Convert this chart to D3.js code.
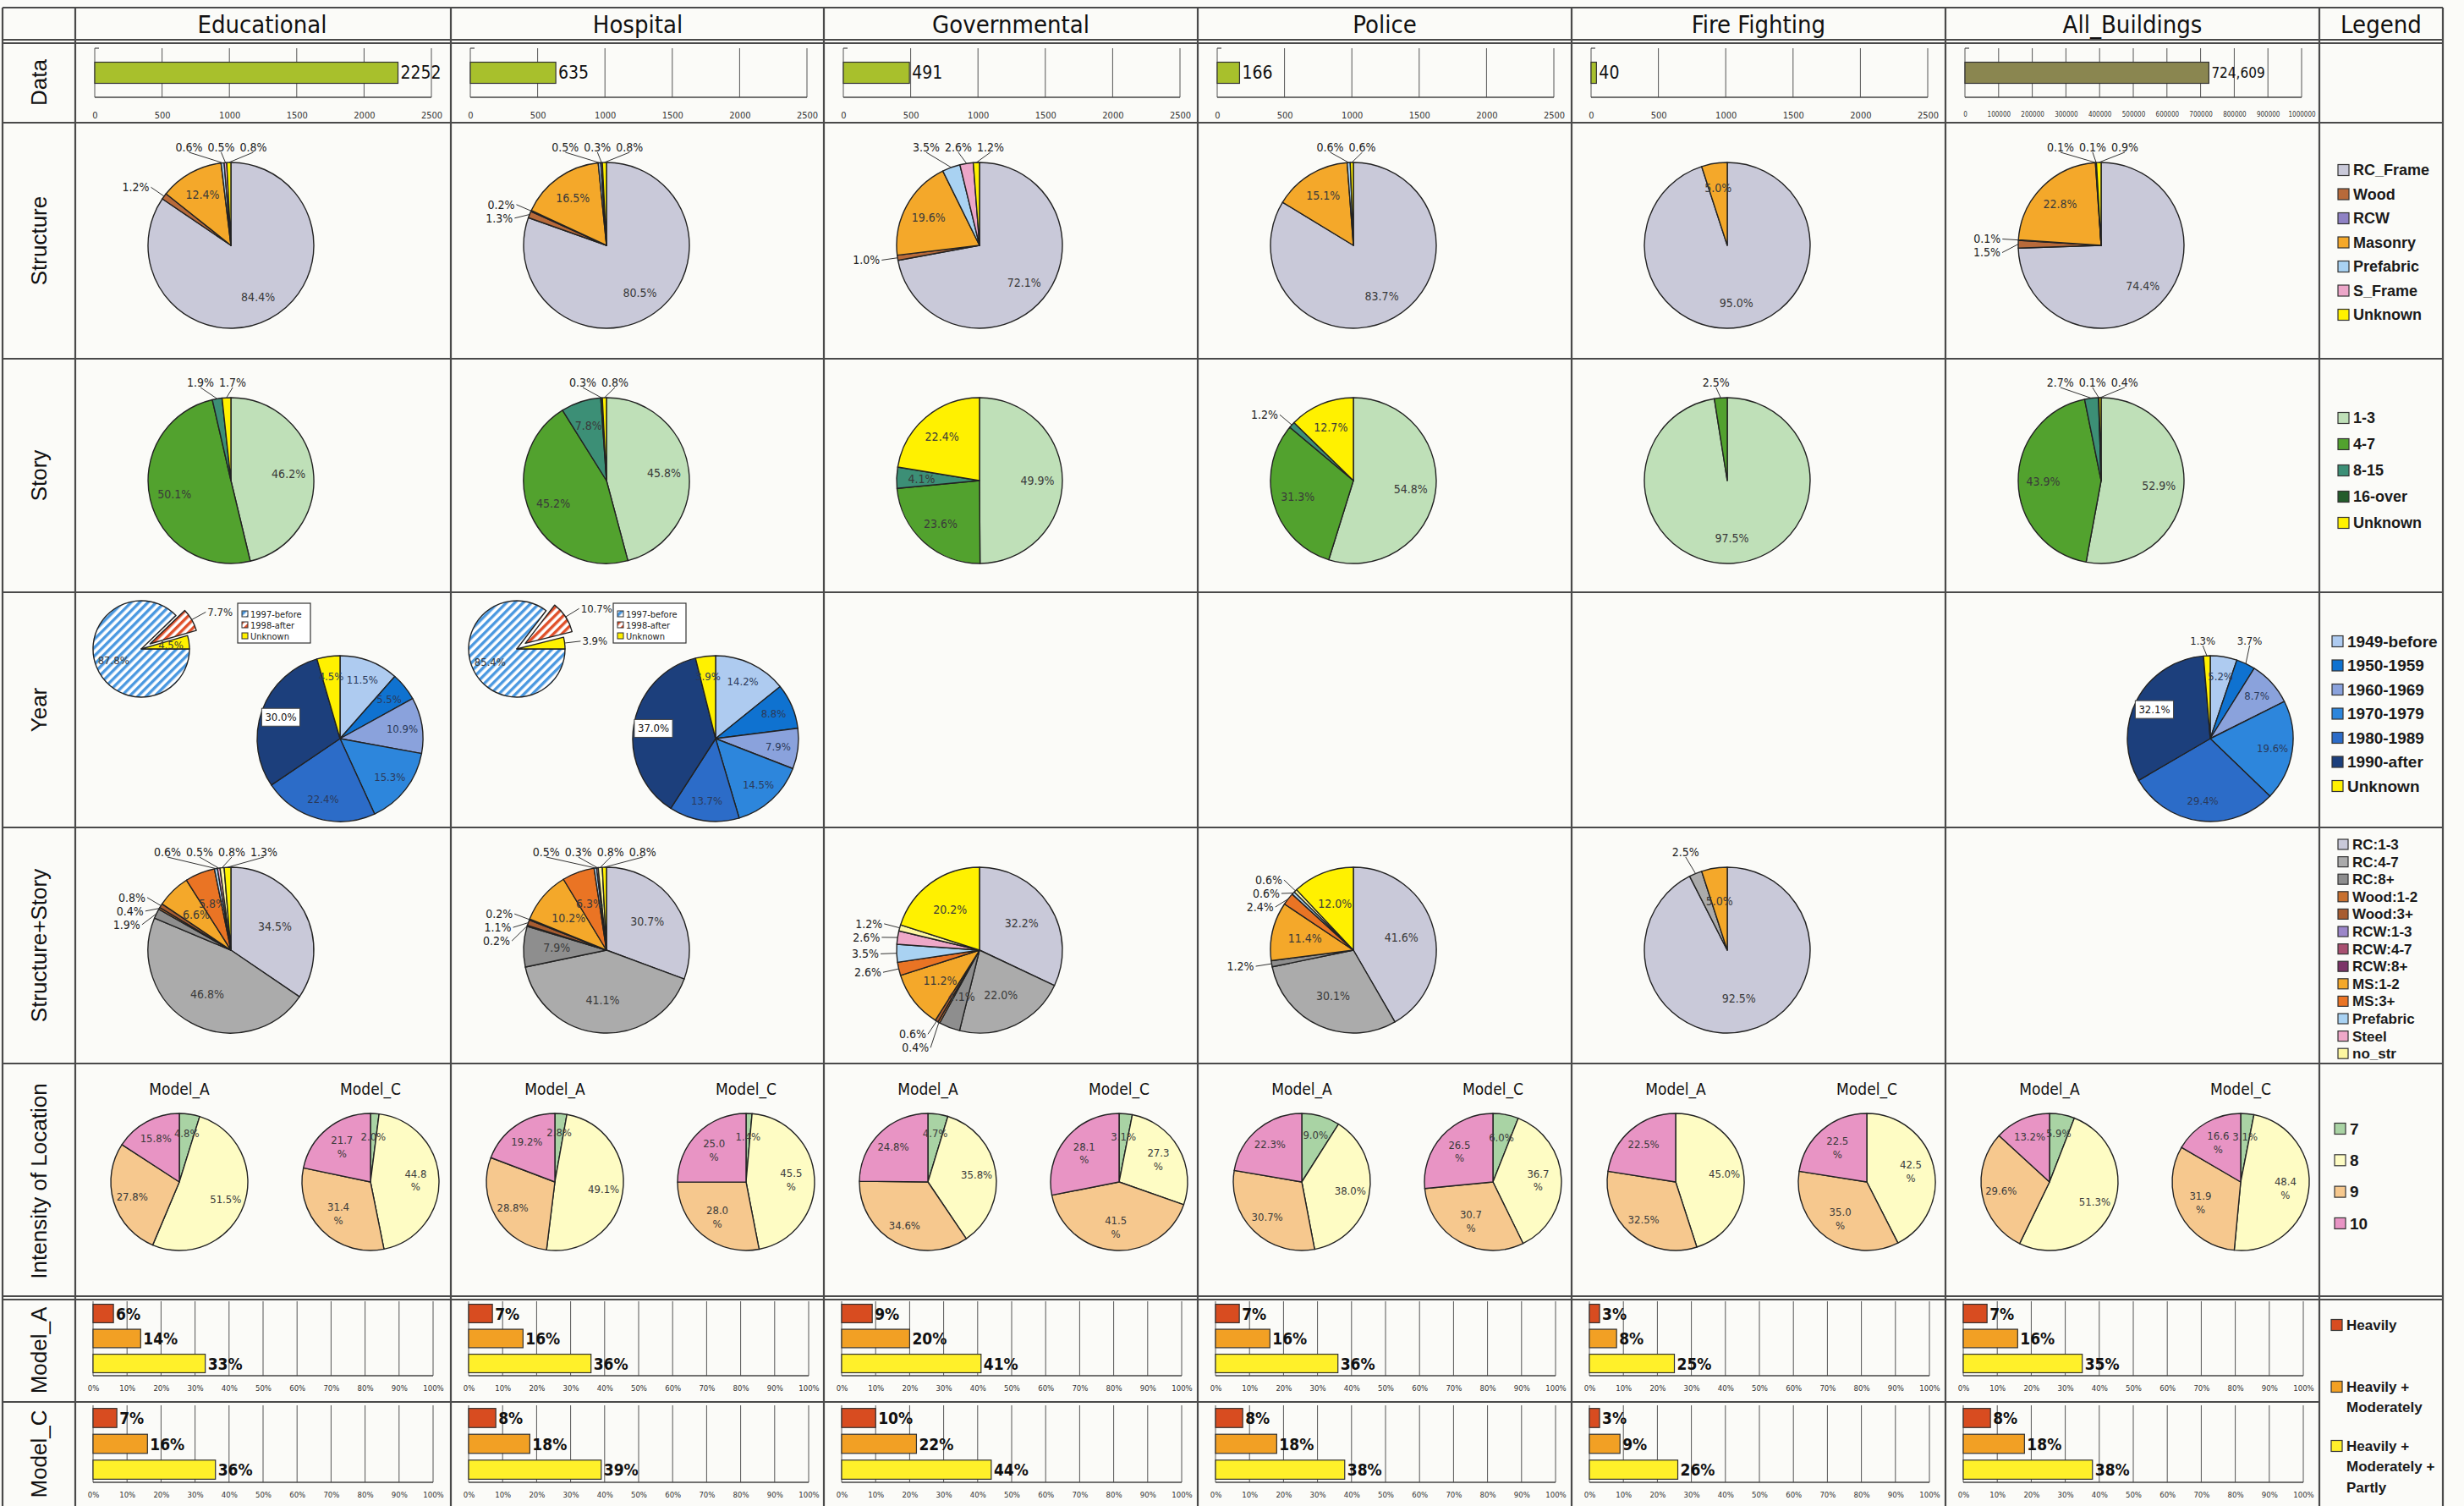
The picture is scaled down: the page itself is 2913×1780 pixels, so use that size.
<!DOCTYPE html>
<html>
<head>
<meta charset="utf-8">
<script src="https://cdn.jsdelivr.net/npm/d3@7"></script>
<style>
body { margin: 0; background: #fbfbf8; }
svg { display: block; }
</style>
</head>
<body>
<script>
// ---- data ----
const columns = ["Educational", "Hospital", "Governmental", "Police", "Fire Fighting", "All_Buildings"];
const rowNames = ["Data", "Structure", "Story", "Year", "Structure+Story", "Intensity of Location", "Model_A", "Model_C"];

const dataCounts = [2252, 635, 491, 166, 40, 724609];

const structureCats = ["RC_Frame", "Wood", "RCW", "Masonry", "Prefabric", "S_Frame", "Unknown"];
const structureValues = [
    [84.4, 1.2, 0.0, 12.4, 0.6, 0.5, 0.8],
    [80.5, 1.3, 0.2, 16.5, 0.5, 0.3, 0.8],
    [72.1, 1.0, 0.0, 19.6, 3.5, 2.6, 1.2],
    [83.7, 0.0, 0.0, 15.1, 0.6, 0.0, 0.6],
    [95.0, 0.0, 0.0, 5.0, 0.0, 0.0, 0.0],
    [74.4, 1.5, 0.1, 22.8, 0.1, 0.1, 0.9]
];

const storyCats = ["1-3", "4-7", "8-15", "16-over", "Unknown"];
const storyValues = [
    [46.2, 50.1, 1.9, 0.0, 1.7],
    [45.8, 45.2, 7.8, 0.3, 0.8],
    [49.9, 23.6, 4.1, 0.0, 22.4],
    [54.8, 31.3, 1.2, 0.0, 12.7],
    [97.5, 2.5, 0.0, 0.0, 0.0],
    [52.9, 43.9, 2.7, 0.1, 0.4]
];

const yearCats = ["1949-before", "1950-1959", "1960-1969", "1970-1979", "1980-1989", "1990-after", "Unknown"];
const yearValues = [
    [11.5, 5.5, 10.9, 15.3, 22.4, 30.0, 4.5],
    [14.2, 8.8, 7.9, 14.5, 13.7, 37.0, 3.9],
    null, null, null,
    [5.2, 3.7, 8.7, 19.6, 29.4, 32.1, 1.3]
];
const splitCats = ["1997-before", "1998-after", "Unknown"];
const splitValues = [
    [87.8, 7.7, 4.5],
    [85.4, 10.7, 3.9],
    null, null, null, null
];

const ssCats = ["RC:1-3", "RC:4-7", "RC:8+", "Wood:1-2", "Wood:3+", "RCW:1-3", "RCW:4-7", "RCW:8+",
    "MS:1-2", "MS:3+", "Prefabric", "Steel", "no_str", "Unknown"];
const ssValues = [
    [34.5, 46.8, 1.9, 0.4, 0.8, 0, 0, 0, 6.6, 5.8, 0.6, 0.5, 0.8, 1.3],
    [30.7, 41.1, 7.9, 0.2, 1.1, 0.2, 0, 0, 10.2, 6.3, 0.5, 0.3, 0.8, 0.8],
    [32.2, 22.0, 4.1, 0.4, 0.6, 0, 0, 0, 11.2, 2.6, 3.5, 2.6, 1.2, 20.2],
    [41.6, 30.1, 1.2, 0, 0, 0, 0, 0, 11.4, 2.4, 0.6, 0, 0.6, 12.0],
    [92.5, 2.5, 0, 0, 0, 0, 0, 0, 5.0, 0, 0, 0, 0, 0],
    null
];

const intensityCats = ["7", "8", "9", "10"];
const intensityA = [
    [4.8, 51.5, 27.8, 15.8],
    [2.8, 49.1, 28.8, 19.2],
    [4.7, 35.8, 34.6, 24.8],
    [9.0, 38.0, 30.7, 22.3],
    [0.0, 45.0, 32.5, 22.5],
    [5.9, 51.3, 29.6, 13.2]
];
const intensityC = [
    [2.0, 44.8, 31.4, 21.7],
    [1.4, 45.5, 28.0, 25.0],
    [3.1, 27.3, 41.5, 28.1],
    [6.0, 36.7, 30.7, 26.5],
    [0.0, 42.5, 35.0, 22.5],
    [3.1, 48.4, 31.9, 16.6]
];

const damageCats = ["Heavily", "Heavily + Moderately", "Heavily + Moderately + Partly"];
const damageA = [[6, 14, 33], [7, 16, 36], [9, 20, 41], [7, 16, 36], [3, 8, 25], [7, 16, 35]];
const damageC = [[7, 16, 36], [8, 18, 39], [10, 22, 44], [8, 18, 38], [3, 9, 26], [8, 18, 38]];

// ---- colours ----
const structureColors = { RC_Frame: "#c9c9d9", Wood: "#b86a3a", RCW: "#8f82c4", Masonry: "#f4a82a",
    Prefabric: "#a9d2f2", S_Frame: "#eca6c8", Unknown: "#fff100" };
const storyColors = { "1-3": "#bfe0b8", "4-7": "#52a22e", "8-15": "#3c8f76", "16-over": "#245c2c", Unknown: "#fff100" };
const yearColors = { "1949-before": "#aecbf0", "1950-1959": "#0f72d0", "1960-1969": "#8aa2dc",
    "1970-1979": "#2d86dc", "1980-1989": "#2c6cc8", "1990-after": "#1c3f7c", Unknown: "#fff100" };
const splitColors = { "1997-before": "url(#hBlue)", "1998-after": "url(#hRed)", Unknown: "#fff100" };
const ssColors = { "RC:1-3": "#c9c9d9", "RC:4-7": "#ababab", "RC:8+": "#8e8e8e", "Wood:1-2": "#c8702e",
    "Wood:3+": "#a85c30", "RCW:1-3": "#9b86c8", "RCW:4-7": "#a85070", "RCW:8+": "#7c3468",
    "MS:1-2": "#f4a82a", "MS:3+": "#ea7424", Prefabric: "#a9d2f2", Steel: "#eea8c8", no_str: "#fdf7a0", Unknown: "#fff100" };
const intensityColors = { "7": "#a9d3a4", "8": "#fefcc4", "9": "#f6c88e", "10": "#e894c4" };
const damageColors = { "Heavily": "#d84c20", "Heavily + Moderately": "#f2a024", "Heavily + Moderately + Partly": "#fff02a" };

const NARROW = "'Liberation Sans Narrow','DejaVu Sans Condensed',sans-serif";
const SANS = "'Liberation Sans',Arial,sans-serif";

// ---- layout ----
const W = 2913, H = 1780;
const colX = [89, 533, 974, 1416, 1858, 2300];
const legX = 2742, rightX = 2888;
const rowY = [[50, 145], [145, 424], [424, 700], [700, 978], [978, 1257], [1257, 1535], [1535, 1657], [1657, 1780]];

const svg = d3.select("body").append("svg").attr("width", W).attr("height", H);
const defs = svg.append("defs");

function hatch(id, color) {
    const p = defs.append("pattern").attr("id", id).attr("patternUnits", "userSpaceOnUse")
        .attr("width", 7).attr("height", 7).attr("patternTransform", "rotate(45)");
    p.append("rect").attr("width", 7).attr("height", 7).attr("fill", "#fff");
    p.append("rect").attr("width", 3.4).attr("height", 7).attr("fill", color);
}
hatch("hBlue", "#4a98e0");
hatch("hRed", "#e0502a");

const pct = v => d3.format(".1f")(v) + "%";

function drawPie(cx, cy, r, values, cats, colors, opt = {}) {
    const o = Object.assign({ thr: 0.04, lr: 0.7, start: 0, split: false, boxCat: null, explode: null,
        outside: [], fs: 14, color: "#3a3a3a", avoid: false }, opt);
    const total = d3.sum(values);
    const arcs = d3.pie().sort(null).startAngle(o.start).endAngle(o.start + 2 * Math.PI)(values)
        .filter(a => a.value > 0);
    const arc = d3.arc().innerRadius(0).outerRadius(r);
    const g = svg.append("g").attr("transform", `translate(${cx},${cy})`);
    const shift = a => {
        if (cats[a.index] !== o.explode) return [0, 0];
        const m = (a.startAngle + a.endAngle) / 2;
        return [12 * Math.sin(m), -12 * Math.cos(m)];
    };

    g.selectAll("path.slice").data(arcs).join("path")
        .attr("class", "slice")
        .attr("d", arc)
        .attr("transform", a => `translate(${shift(a)})`)
        .attr("fill", a => colors[cats[a.index]])
        .attr("stroke", "#222")
        .attr("stroke-width", 1.4)
        .attr("stroke-linejoin", "round");

    // which labels go inside: big enough, and (optionally) not colliding with an earlier one
    const lab = d3.arc().innerRadius(r * o.lr).outerRadius(r * o.lr);
    const boxes = [];
    arcs.forEach(a => {
        a.out = a.value / total < o.thr || o.outside.includes(cats[a.index]);
        if (a.out || !o.avoid) return;
        const [x, y] = lab.centroid(a);
        const w = pct(a.value).length * o.fs * 0.5, h = o.fs;
        const hit = boxes.some(b => Math.abs(b[0] - x) < (b[2] + w) / 2 && Math.abs(b[1] - y) < (b[3] + h) / 2);
        if (hit) a.out = true; else boxes.push([x, y, w, h]);
    });

    arcs.filter(a => !a.out).forEach(a => {
        const [x, y] = lab.centroid(a);
        const [dx, dy] = shift(a);
        const t = g.append("text")
            .attr("x", x + dx).attr("y", y + dy)
            .attr("text-anchor", "middle")
            .attr("font-family", NARROW).attr("font-size", o.fs)
            .attr("fill", o.color);
        if (o.split && a.value >= 10) {
            t.append("tspan").attr("x", x + dx).attr("dy", "-0.25em").text(d3.format(".1f")(a.value));
            t.append("tspan").attr("x", x + dx).attr("dy", "1.2em").text("%");
        } else {
            t.attr("dy", "0.35em").text(pct(a.value));
        }
        if (cats[a.index] === o.boxCat) {
            const b = t.node().getBBox();
            g.insert("rect", () => t.node())
                .attr("x", b.x - 4).attr("y", b.y - 3).attr("width", b.width + 8).attr("height", b.height + 6)
                .attr("fill", "#fff").attr("stroke", "#444").attr("stroke-width", 1);
            t.attr("fill", "#111");
        }
    });

    // small slices: labels outside with leader lines
    const outs = arcs.filter(a => a.out);
    outs.forEach(a => {
        a.m = (a.startAngle + a.endAngle) / 2;
        const [dx, dy] = shift(a);
        a.px = r * Math.sin(a.m) + dx;
        a.py = -r * Math.cos(a.m) + dy;
    });
    const wrap = m => (m > Math.PI ? m - 2 * Math.PI : m);
    const topL = outs.filter(a => Math.cos(a.m) > 0.85).sort((a, b) => wrap(a.m) - wrap(b.m));
    const nat = topL.map(a => (r + 20) * Math.sin(a.m) - 4);
    const xs = nat.slice();
    for (let i = 1; i < xs.length; i++) xs[i] = Math.max(xs[i], xs[i - 1] + 38);
    const sh = topL.length ? d3.mean(nat) - d3.mean(xs) : 0;
    topL.forEach((a, i) => {
        a.lx = xs[i] + sh; a.ly = -r - 18; a.anchor = "middle";
        a.ex = a.lx; a.ey = a.ly + 6;
    });
    const sideL = outs.filter(a => Math.cos(a.m) <= 0.85);
    sideL.forEach(a => {
        const R = r + 18, s = Math.sin(a.m);
        a.lx = R * s + (s < 0 ? -3 : 3) + (a.px - r * s);
        a.ly = -R * Math.cos(a.m) + (a.py + r * Math.cos(a.m));
        a.anchor = s < 0 ? "end" : "start";
    });
    ["end", "start"].forEach(side => {
        const L = sideL.filter(a => a.anchor === side).sort((a, b) => a.ly - b.ly);
        for (let i = 1; i < L.length; i++) if (L[i].ly - L[i - 1].ly < 16) L[i].ly = L[i - 1].ly + 16;
        L.forEach(a => { a.ex = a.lx + (side === "end" ? 2 : -2); a.ey = a.ly; });
    });
    outs.forEach(a => {
        g.append("path")
            .attr("d", d3.line()([[a.px, a.py], [a.ex, a.ey]]))
            .attr("stroke", "#333").attr("stroke-width", 1).attr("fill", "none");
        g.append("text")
            .attr("x", a.lx).attr("y", a.ly).attr("dy", "0.35em")
            .attr("text-anchor", a.anchor)
            .attr("font-family", NARROW).attr("font-size", o.fs)
            .attr("fill", "#222")
            .text(pct(a.value));
    });
}

function legend(x, y0, step, items, colors, fs, sw = 13) {
    items.forEach((c, i) => {
        const y = y0 + i * step;
        svg.append("rect").attr("x", x).attr("y", y - sw / 2).attr("width", sw).attr("height", sw)
            .attr("fill", colors[c]).attr("stroke", "#333").attr("stroke-width", 1.2);
        svg.append("text").attr("x", x + sw + 5).attr("y", y).attr("dy", "0.35em")
            .attr("font-family", SANS).attr("font-weight", "bold").attr("font-size", fs)
            .attr("fill", "#1a1a1a").text(c);
    });
}

// ---- data row bars ----
function drawCount(i) {
    const x0 = colX[i] + 23, top = 57, bottom = 115;
    const max = i === 5 ? 1000000 : 2500;
    const x = d3.scaleLinear().domain([0, max]).range([x0, x0 + 398]);
    const y = d3.scaleBand().domain([columns[i]]).range([top, bottom]).paddingInner(0).paddingOuter(0.66);
    const ticks = x.ticks(i === 5 ? 10 : 5);
    svg.append("g").selectAll("line").data(ticks).join("line")
        .attr("x1", d => x(d)).attr("x2", d => x(d)).attr("y1", top).attr("y2", bottom)
        .attr("stroke", "#555").attr("stroke-width", 1);
    svg.append("line").attr("x1", x0).attr("x2", x0 + 398).attr("y1", bottom).attr("y2", bottom)
        .attr("stroke", "#444").attr("stroke-width", 1.5);
    svg.append("line").attr("x1", x0).attr("x2", x0 + 5).attr("y1", top).attr("y2", top)
        .attr("stroke", "#444").attr("stroke-width", 1.2);
    const v = dataCounts[i];
    svg.append("rect").attr("x", x(0)).attr("y", y(columns[i]))
        .attr("width", x(v) - x(0)).attr("height", y.bandwidth())
        .attr("fill", i === 5 ? "#8a8650" : "#a8c02c").attr("stroke", "#333").attr("stroke-width", 1.2);
    svg.append("text").attr("x", x(v) + 3).attr("y", y(columns[i]) + y.bandwidth() / 2).attr("dy", "0.35em")
        .attr("font-family", NARROW).attr("font-size", i === 5 ? 17 : 21).attr("fill", "#111")
        .text(v >= 10000 ? d3.format(",")(v) : v);
    const ax = svg.append("g").attr("transform", `translate(0,${bottom})`)
        .call(d3.axisBottom(x).tickValues(ticks).tickSize(0).tickPadding(17).tickFormat(d3.format("d")));
    ax.select(".domain").remove();
    ax.selectAll("text").attr("font-family", NARROW).attr("font-size", i === 5 ? 8 : 11).attr("fill", "#333");
}

// ---- damage ratio bars ----
function drawDamage(i, vals, top, bottom) {
    const x0 = colX[i] + 21;
    const x = d3.scaleLinear().domain([0, 100]).range([x0, x0 + 402]);
    const y = d3.scaleBand().domain(damageCats).range([top, bottom]).paddingInner(0.26).paddingOuter(0.12);
    const ticks = x.ticks(10);
    svg.append("g").selectAll("line").data(ticks).join("line")
        .attr("x1", d => x(d)).attr("x2", d => x(d)).attr("y1", top).attr("y2", bottom)
        .attr("stroke", "#555").attr("stroke-width", 1);
    svg.append("line").attr("x1", x0).attr("x2", x0 + 402).attr("y1", bottom).attr("y2", bottom)
        .attr("stroke", "#444").attr("stroke-width", 1.5);
    svg.append("g").selectAll("rect").data(damageCats).join("rect")
        .attr("x", x(0)).attr("y", d => y(d))
        .attr("width", (d, k) => x(vals[k]) - x(0)).attr("height", y.bandwidth())
        .attr("fill", d => damageColors[d]).attr("stroke", "#333").attr("stroke-width", 1.2);
    svg.append("g").selectAll("text").data(damageCats).join("text")
        .attr("x", (d, k) => x(vals[k]) + 3).attr("y", d => y(d) + y.bandwidth() / 2).attr("dy", "0.38em")
        .attr("font-family", NARROW).attr("font-weight", "bold").attr("font-size", 19).attr("fill", "#111")
        .text((d, k) => vals[k] + "%");
    const ax = svg.append("g").attr("transform", `translate(0,${bottom})`)
        .call(d3.axisBottom(x).tickValues(ticks).tickSize(0).tickPadding(11).tickFormat(d => d + "%"));
    ax.select(".domain").remove();
    ax.selectAll("text").attr("font-family", NARROW).attr("font-size", 9.5).attr("fill", "#333");
}

// ---- grid / headers ----
const grid = svg.append("g").attr("stroke", "#4a4a4a").attr("stroke-width", 2.2);
[3, ...colX, legX, rightX].forEach(x => grid.append("line").attr("x1", x).attr("x2", x).attr("y1", 9).attr("y2", H));
[9, 47, 51, 145, 424, 700, 978, 1257, 1532, 1536].forEach(y =>
    grid.append("line").attr("x1", 3).attr("x2", rightX).attr("y1", y).attr("y2", y));
// the damage legend spans both model rows
grid.append("line").attr("x1", 3).attr("x2", legX).attr("y1", 1657).attr("y2", 1657);

columns.concat(["Legend"]).forEach((c, i) => {
    const cx = i < 6 ? colX[i] + 221 : (legX + rightX) / 2;
    svg.append("text").attr("x", cx).attr("y", 39).attr("text-anchor", "middle")
        .attr("font-family", NARROW).attr("font-size", 29).attr("fill", "#111").text(c);
});

rowNames.forEach((n, i) => {
    const cy = (rowY[i][0] + rowY[i][1]) / 2;
    svg.append("text").attr("transform", `translate(55,${cy}) rotate(-90)`)
        .attr("text-anchor", "middle")
        .attr("font-family", SANS).attr("font-size", 26).attr("fill", "#111").text(n);
});

// ---- cells ----
columns.forEach((c, i) => {
    const x = colX[i];
    drawCount(i);
    drawPie(x + 184, 290, 98, structureValues[i], structureCats, structureColors);
    drawPie(x + 184, 568, 98, storyValues[i], storyCats, storyColors);

    if (splitValues[i]) {
        drawPie(x + 78, 767, 57, splitValues[i], splitCats, splitColors,
            { start: Math.PI / 2, lr: 0.62, outside: ["1998-after"], explode: "1998-after", fs: 13 });
        const bx = x + 192, by = 713;
        svg.append("rect").attr("x", bx).attr("y", by).attr("width", 86).attr("height", 47)
            .attr("fill", "#fff").attr("stroke", "#333").attr("stroke-width", 1.2);
        splitCats.forEach((s, k) => {
            svg.append("rect").attr("x", bx + 5).attr("y", by + 9 + k * 13).attr("width", 7).attr("height", 7)
                .attr("fill", splitColors[s]).attr("stroke", "#333").attr("stroke-width", 1);
            svg.append("text").attr("x", bx + 15).attr("y", by + 13 + k * 13).attr("dy", "0.35em")
                .attr("font-family", NARROW).attr("font-size", 11).attr("fill", "#222").text(s);
        });
    }
    if (yearValues[i]) {
        drawPie(x + 313, 873, 98, yearValues[i], yearCats, yearColors,
            { thr: 0.02, lr: 0.76, boxCat: "1990-after", color: "#2b3a5a", fs: 13, avoid: true });
    }
    if (ssValues[i]) {
        drawPie(x + 184, 1123, 98, ssValues[i], ssCats, ssColors, { lr: 0.6 });
    }

    [["Model_A", intensityA[i], 123, false], ["Model_C", intensityC[i], 349, true]].forEach(([t, vals, off, split]) => {
        svg.append("text").attr("x", x + off).attr("y", 1294).attr("text-anchor", "middle")
            .attr("font-family", NARROW).attr("font-size", 19).attr("fill", "#111").text(t);
        drawPie(x + off, 1397, 81, vals, intensityCats, intensityColors,
            { thr: 0, lr: split ? 0.66 : 0.72, split: split, fs: 13 });
    });

    drawDamage(i, damageA[i], 1538, 1626);
    drawDamage(i, damageC[i], 1661, 1752);
});

// ---- legend column ----
legend(2764, 201, 28.5, structureCats, structureColors, 18);
legend(2764, 494, 31, storyCats, storyColors, 18);
legend(2757, 758, 28.5, yearCats, yearColors, 19);
legend(2764, 998, 20.6, ssCats.slice(0, 13), ssColors, 17, 12);
legend(2760, 1334, 37.3, intensityCats, intensityColors, 19);

const damageLegend = [["Heavily"], ["Heavily +", "Moderately"], ["Heavily +", "Moderately +", "Partly"]];
[1566, 1639, 1709].forEach((y, k) => {
    svg.append("rect").attr("x", 2756).attr("y", y - 6.5).attr("width", 13).attr("height", 13)
        .attr("fill", damageColors[damageCats[k]]).attr("stroke", "#333").attr("stroke-width", 1.2);
    damageLegend[k].forEach((line, j) => {
        svg.append("text").attr("x", 2774).attr("y", y + j * 24.5).attr("dy", "0.35em")
            .attr("font-family", SANS).attr("font-weight", "bold").attr("font-size", 17)
            .attr("fill", "#1a1a1a").text(line);
    });
});
</script>
</body>
</html>
